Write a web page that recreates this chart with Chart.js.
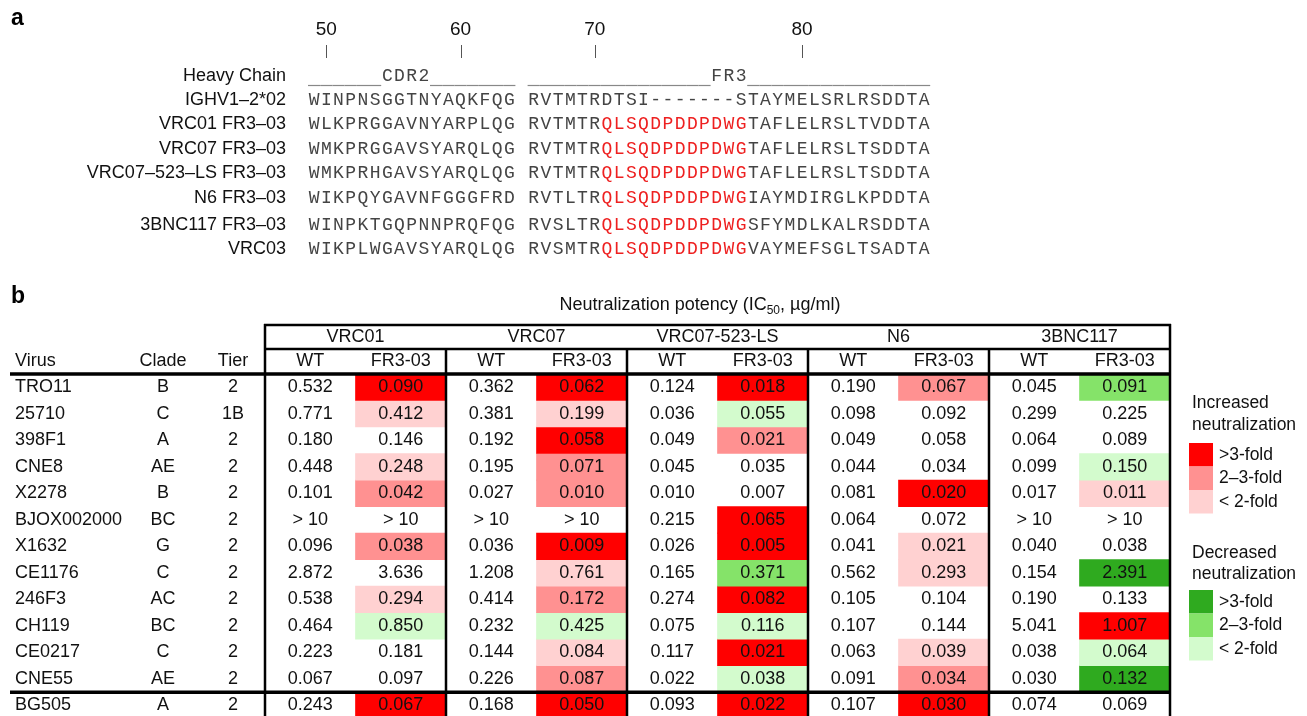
<!DOCTYPE html>
<html>
<head>
<meta charset="utf-8">
<script src="https://cdn.jsdelivr.net/npm/chart.js@4"></script>
<style>
  html, body { margin: 0; padding: 0; background: #fff; }
  canvas { display: block; }
</style>
</head>
<body>
<canvas id="myChart" width="1307" height="716"></canvas>
<script>
// ---- panel a : alignment ----
const seqLabels = ['IGHV1–2*02', 'VRC01 FR3–03', 'VRC07 FR3–03', 'VRC07–523–LS FR3–03', 'N6 FR3–03', '3BNC117 FR3–03', 'VRC03'];
const seqCdr2 = ['WINPNSGGTNYAQKFQG', 'WLKPRGGAVNYARPLQG', 'WMKPRGGAVSYARQLQG', 'WMKPRHGAVSYARQLQG', 'WIKPQYGAVNFGGGFRD', 'WINPKTGQPNNPRQFQG', 'WIKPLWGAVSYARQLQG'];
const seqFr3 = ['RVTMTRDTSI-------STAYMELSRLRSDDTA', 'RVTMTRQLSQDPDDPDWGTAFLELRSLTVDDTA', 'RVTMTRQLSQDPDDPDWGTAFLELRSLTSDDTA', 'RVTMTRQLSQDPDDPDWGTAFLELRSLTSDDTA', 'RVTLTRQLSQDPDDPDWGIAYMDIRGLKPDDTA', 'RVSLTRQLSQDPDDPDWGSFYMDLKALRSDDTA', 'RVSMTRQLSQDPDDPDWGVAYMEFSGLTSADTA'];
const insertRows = [false, true, true, true, true, true, true];
const insertRange = [6, 18];          // red part inside FR3 string
const regionHeader = ['______CDR2_______', '_______________FR3_______________'];
const posLabels = [50, 60, 70, 80];
const posColumns = [1, 12, 23, 40];   // alignment column of each numbered residue

// ---- panel b : neutralization table ----
const viruses = ['TRO11', '25710', '398F1', 'CNE8', 'X2278', 'BJOX002000', 'X1632', 'CE1176', '246F3', 'CH119', 'CE0217', 'CNE55', 'BG505'];
const clades = ['B', 'C', 'A', 'AE', 'B', 'BC', 'G', 'C', 'AC', 'BC', 'C', 'AE', 'A'];
const tiers = ['2', '1B', '2', '2', '2', '2', '2', '2', '2', '2', '2', '2', '2'];
const antibodies = ['VRC01', 'VRC07', 'VRC07-523-LS', 'N6', '3BNC117'];
const subCols = ['WT', 'FR3-03'];

const vrc01WT   = ['0.532', '0.771', '0.180', '0.448', '0.101', '> 10', '0.096', '2.872', '0.538', '0.464', '0.223', '0.067', '0.243'];
const vrc01FR3  = ['0.090', '0.412', '0.146', '0.248', '0.042', '> 10', '0.038', '3.636', '0.294', '0.850', '0.181', '0.097', '0.067'];
const vrc01Fold = ['R3', 'R1', '', 'R1', 'R2', '', 'R2', '', 'R1', 'G1', '', '', 'R3'];

const vrc07WT   = ['0.362', '0.381', '0.192', '0.195', '0.027', '> 10', '0.036', '1.208', '0.414', '0.232', '0.144', '0.226', '0.168'];
const vrc07FR3  = ['0.062', '0.199', '0.058', '0.071', '0.010', '> 10', '0.009', '0.761', '0.172', '0.425', '0.084', '0.087', '0.050'];
const vrc07Fold = ['R3', 'R1', 'R3', 'R2', 'R2', '', 'R3', 'R1', 'R2', 'G1', 'R1', 'R2', 'R3'];

const lsWT   = ['0.124', '0.036', '0.049', '0.045', '0.010', '0.215', '0.026', '0.165', '0.274', '0.075', '0.117', '0.022', '0.093'];
const lsFR3  = ['0.018', '0.055', '0.021', '0.035', '0.007', '0.065', '0.005', '0.371', '0.082', '0.116', '0.021', '0.038', '0.022'];
const lsFold = ['R3', 'G1', 'R2', '', '', 'R3', 'R3', 'G2', 'R3', 'G1', 'R3', 'G1', 'R3'];

const n6WT   = ['0.190', '0.098', '0.049', '0.044', '0.081', '0.064', '0.041', '0.562', '0.105', '0.107', '0.063', '0.091', '0.107'];
const n6FR3  = ['0.067', '0.092', '0.058', '0.034', '0.020', '0.072', '0.021', '0.293', '0.104', '0.144', '0.039', '0.034', '0.030'];
const n6Fold = ['R2', '', '', '', 'R3', '', 'R1', 'R1', '', '', 'R1', 'R2', 'R3'];

const bncWT   = ['0.045', '0.299', '0.064', '0.099', '0.017', '> 10', '0.040', '0.154', '0.190', '5.041', '0.038', '0.030', '0.074'];
const bncFR3  = ['0.091', '0.225', '0.089', '0.150', '0.011', '> 10', '0.038', '2.391', '0.133', '1.007', '0.064', '0.132', '0.069'];
const bncFold = ['G2', '', '', 'G1', 'R1', '', '', 'G3', '', 'R3', 'G1', 'G3', ''];

const legendUp = ['>3-fold', '2–3-fold', '< 2-fold'];
const legendDown = ['>3-fold', '2–3-fold', '< 2-fold'];

const foldColors = {
  R3: '#ff0000', R2: '#ff9191', R1: '#ffd1d1',
  G3: '#2faa1f', G2: '#85e369', G1: '#d3fbcd',
  '': 'rgba(255,255,255,0)'
};

const wtCols = [vrc01WT, vrc07WT, lsWT, n6WT, bncWT];
const frCols = [vrc01FR3, vrc07FR3, lsFR3, n6FR3, bncFR3];
const foldCols = [vrc01Fold, vrc07Fold, lsFold, n6Fold, bncFold];

// column labels for the category axis: WT / FR3-03 for each antibody
const colLabels = [];
antibodies.forEach(ab => subCols.forEach(s => colLabels.push(ab + ' ' + s)));

// one stacked dataset per virus row, each cell one unit high
const datasets = viruses.map((v, r) => ({
  label: v,
  data: colLabels.map(() => 1),
  backgroundColor: colLabels.map((c, ci) => ci % 2 === 0 ? foldColors[''] : foldColors[foldCols[ci >> 1][r]]),
  borderWidth: 0,
  barPercentage: 1,
  categoryPercentage: 1
}));

const SANS = '"Liberation Sans", Arial, Helvetica, sans-serif';
const MONO = '"Liberation Mono", "DejaVu Sans Mono", monospace';

function txt(ctx, s, x, y, align, font, color) {
  ctx.font = font;
  ctx.textAlign = align || 'left';
  ctx.textBaseline = 'middle';
  ctx.fillStyle = color || '#111';
  ctx.fillText(s, x, y);
}

function line(ctx, x1, y1, x2, y2, w, color) {
  ctx.beginPath();
  ctx.lineWidth = w;
  ctx.strokeStyle = color || '#000';
  ctx.moveTo(x1, y1);
  ctx.lineTo(x2, y2);
  ctx.stroke();
}

// panel a is drawn character by character on a fixed pitch
const alignPlugin = {
  id: 'alignPanel',
  afterDraw(chart) {
    const ctx = chart.ctx;
    const x0 = 308, pitch = 12.2;
    const colX = i => x0 + (i + 0.5) * pitch;
    ctx.save();
    txt(ctx, 'a', 11, 19, 'left', 'bold 23px ' + SANS, '#000');
    // residue numbers
    posLabels.forEach((p, i) => {
      const x = colX(posColumns[i]);
      txt(ctx, String(p), x, 30, 'center', '19px ' + SANS, '#111');
      line(ctx, Math.round(x) + 0.5, 45, Math.round(x) + 0.5, 58, 1, '#555');
    });
    // header row
    txt(ctx, 'Heavy Chain', 286, 76, 'right', '18px ' + SANS, '#111');
    const hdr = regionHeader[0] + ' ' + regionHeader[1];
    ctx.font = '18px ' + MONO;
    ctx.textAlign = 'center';
    ctx.textBaseline = 'middle';
    ctx.fillStyle = '#666';
    for (let i = 0; i < hdr.length; i++) {
      const ch = hdr[i];
      if (ch === '_') {
        line(ctx, x0 + i * pitch, 85.5, x0 + (i + 1) * pitch, 85.5, 1.2, '#888');
      } else if (ch !== ' ') {
        ctx.fillStyle = '#444';
        ctx.fillText(ch, colX(i), 76);
      }
    }
    // sequences
    const rowY = [100, 124, 149, 173, 198, 225, 249];
    seqLabels.forEach((lab, r) => {
      txt(ctx, lab, 286, rowY[r], 'right', '18px ' + SANS, '#111');
      const s = seqCdr2[r] + ' ' + seqFr3[r];
      ctx.font = '18px ' + MONO;
      ctx.textAlign = 'center';
      for (let i = 0; i < s.length; i++) {
        const fi = i - seqCdr2[r].length - 1;
        const red = insertRows[r] && fi >= insertRange[0] && fi < insertRange[1];
        ctx.fillStyle = red ? '#ee2020' : '#444';
        ctx.fillText(s[i], colX(i), rowY[r]);
      }
    });
    ctx.restore();
  }
};

// panel b lines, headers and numbers, placed through the chart scales
const tablePlugin = {
  id: 'tablePanel',
  afterDatasetsDraw(chart) {
    const ctx = chart.ctx;
    const xs = chart.scales.x, ys = chart.scales.y;
    const ca = chart.chartArea;
    const left = xs.getPixelForValue(-0.5), right = xs.getPixelForValue(colLabels.length - 0.5);
    const top = ys.getPixelForValue(0);
    const font = '18px ' + SANS;
    ctx.save();

    txt(ctx, 'b', 11, 297, 'left', 'bold 23px ' + SANS, '#000');

    // title with subscript
    const t1 = 'Neutralization potency (IC', t2 = '50', t3 = ', µg/ml)';
    ctx.font = font; const w1 = ctx.measureText(t1).width, w3 = ctx.measureText(t3).width;
    ctx.font = '12px ' + SANS; const w2 = ctx.measureText(t2).width;
    let tx = 700 - (w1 + w2 + w3) / 2;
    txt(ctx, t1, tx, 305, 'left', font); tx += w1;
    txt(ctx, t2, tx, 311, 'left', '12px ' + SANS); tx += w2;
    txt(ctx, t3, tx, 305, 'left', font);

    // group headers and sub headers
    antibodies.forEach((ab, g) => {
      txt(ctx, ab, xs.getPixelForValue(2 * g + 0.5), top - 37, 'center', font);
      subCols.forEach((s, k) => txt(ctx, s, xs.getPixelForValue(2 * g + k), top - 13, 'center', font));
    });
    txt(ctx, 'Virus', 15, top - 13, 'left', font);
    txt(ctx, 'Clade', 163, top - 13, 'center', font);
    txt(ctx, 'Tier', 233, top - 13, 'center', font);

    // rows
    viruses.forEach((v, r) => {
      const y = ys.getPixelForValue(r + 0.5);
      txt(ctx, v, 15, y, 'left', font);
      txt(ctx, clades[r], 163, y, 'center', font);
      txt(ctx, tiers[r], 233, y, 'center', font);
      antibodies.forEach((ab, g) => {
        txt(ctx, wtCols[g][r], xs.getPixelForValue(2 * g), y, 'center', font);
        txt(ctx, frCols[g][r], xs.getPixelForValue(2 * g + 1), y, 'center', font);
      });
    });

    // rules
    const bottom = chart.height;
    line(ctx, left - 1, top - 49, right + 1, top - 49, 2.5);
    line(ctx, left, top - 25, right, top - 25, 2.5);
    line(ctx, 10, top, right + 1, top, 3.5);
    const ySplit = ys.getPixelForValue(viruses.length - 1);
    line(ctx, 10, ySplit, right + 1, ySplit, 3.5);
    line(ctx, left, top - 50, left, bottom, 2.5);
    line(ctx, right, top - 50, right, bottom, 2.5);
    for (let g = 1; g < antibodies.length; g++) {
      const x = xs.getPixelForValue(2 * g - 0.5);
      line(ctx, x, top - 25, x, bottom, 2.5);
    }

    // legend
    const lx = 1189, sw = 24, sh = 23.5;
    txt(ctx, 'Increased', 1192, 403, 'left', '17.5px ' + SANS);
    txt(ctx, 'neutralization', 1192, 425, 'left', '17.5px ' + SANS);
    ['R3', 'R2', 'R1'].forEach((c, i) => {
      ctx.fillStyle = foldColors[c];
      ctx.fillRect(lx, 443 + i * sh, sw, sh);
      txt(ctx, legendUp[i], 1219, 443 + i * sh + sh / 2, 'left', '17.5px ' + SANS);
    });
    txt(ctx, 'Decreased', 1192, 553, 'left', '17.5px ' + SANS);
    txt(ctx, 'neutralization', 1192, 574, 'left', '17.5px ' + SANS);
    ['G3', 'G2', 'G1'].forEach((c, i) => {
      ctx.fillStyle = foldColors[c];
      ctx.fillRect(lx, 590 + i * sh, sw, sh);
      txt(ctx, legendDown[i], 1219, 590 + i * sh + sh / 2, 'left', '17.5px ' + SANS);
    });
    ctx.restore();
  }
};

const config = {
  type: 'bar',
  data: { labels: colLabels, datasets: datasets },
  options: {
    responsive: false,
    animation: false,
    events: [],
    layout: { padding: { left: 265, right: 137, top: 374, bottom: 0 } },
    plugins: { legend: { display: false }, tooltip: { enabled: false } },
    scales: {
      x: { display: false, stacked: true, offset: true },
      y: { display: false, stacked: true, reverse: true, min: 0, max: 12.9 }
    }
  },
  plugins: [alignPlugin, tablePlugin]
};

const myChart = new Chart(document.getElementById('myChart'), config);
</script>
</body>
</html>
